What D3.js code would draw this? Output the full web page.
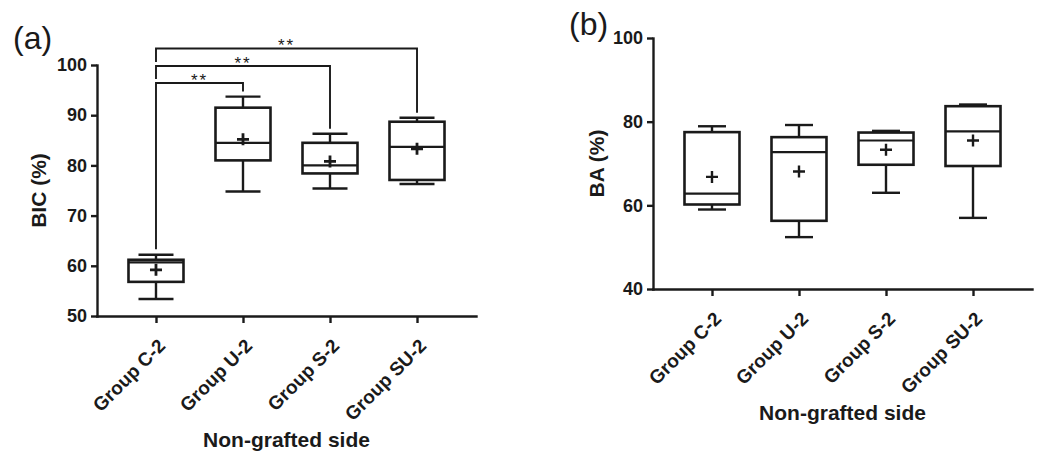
<!DOCTYPE html>
<html>
<head>
<meta charset="utf-8">
<script src="https://cdn.jsdelivr.net/npm/d3@7"></script>
<style>
  body { margin: 0; background: #fff; }
  svg { display: block; font-family: "Liberation Sans", Arial, sans-serif; }
</style>
</head>
<body>
<svg width="1039" height="455"></svg>
<script>
// groups on the x axis (same for both panels)
var groups = ["Group C-2", "Group U-2", "Group S-2", "Group SU-2"];

// panel (a) BIC (%)
var bic_min    = [53.4, 74.8, 75.4, 76.3];
var bic_q1     = [56.8, 81.0, 78.4, 77.1];
var bic_median = [60.7, 84.5, 80.0, 83.7];
var bic_q3     = [61.2, 91.5, 84.5, 88.7];
var bic_max    = [62.2, 93.7, 86.3, 89.5];
var bic_mean   = [59.2, 85.2, 80.8, 83.3];
var bic_ticks  = [50, 60, 70, 80, 90, 100];

// significance brackets for panel (a): pair of group indexes, bar level, label
var sig_pairs   = [[0, 1], [0, 2], [0, 3]];
var sig_levels  = [96.4, 99.8, 103.3];
var sig_labels  = ["**", "**", "**"];

// panel (b) BA (%)
var ba_min    = [59.0, 52.4, 63.0, 57.0];
var ba_q1     = [60.2, 56.3, 69.7, 69.4];
var ba_median = [62.8, 72.7, 75.5, 77.7];
var ba_q3     = [77.5, 76.3, 77.4, 83.7];
var ba_max    = [78.9, 79.2, 77.8, 84.1];
var ba_mean   = [66.8, 68.1, 73.3, 75.5];
var ba_ticks  = [40, 60, 80, 100];

var svg = d3.select("svg");

function draw_panel(opt) {
  var g = svg.append("g");

  var x = d3.scalePoint()
      .domain(groups)
      .range([opt.left, opt.right])
      .padding(0.678);

  var y = d3.scaleLinear()
      .domain(opt.domain)
      .range([opt.bottom, opt.top]);

  var stats = groups.map(function(name, i) {
    return {name: name, min: opt.min[i], q1: opt.q1[i], med: opt.median[i],
            q3: opt.q3[i], max: opt.max[i], mean: opt.mean[i]};
  });

  var boxW = 55, capW = opt.capW;

  var box = g.selectAll(".box")
      .data(stats)
      .enter().append("g")
      .attr("class", "box")
      .attr("stroke", "#1a1a1a")
      .attr("fill", "none");

  // whiskers
  box.append("line")
      .attr("x1", function(d) { return x(d.name); })
      .attr("x2", function(d) { return x(d.name); })
      .attr("y1", function(d) { return y(d.max); })
      .attr("y2", function(d) { return y(d.q3); })
      .attr("stroke-width", 2.4);
  box.append("line")
      .attr("x1", function(d) { return x(d.name); })
      .attr("x2", function(d) { return x(d.name); })
      .attr("y1", function(d) { return y(d.q1); })
      .attr("y2", function(d) { return y(d.min); })
      .attr("stroke-width", 2.4);
  // caps
  box.append("line")
      .attr("x1", function(d) { return x(d.name) - capW / 2; })
      .attr("x2", function(d) { return x(d.name) + capW / 2; })
      .attr("y1", function(d) { return y(d.max); })
      .attr("y2", function(d) { return y(d.max); })
      .attr("stroke-width", 2.4);
  box.append("line")
      .attr("x1", function(d) { return x(d.name) - capW / 2; })
      .attr("x2", function(d) { return x(d.name) + capW / 2; })
      .attr("y1", function(d) { return y(d.min); })
      .attr("y2", function(d) { return y(d.min); })
      .attr("stroke-width", 2.4);
  // box
  box.append("rect")
      .attr("x", function(d) { return x(d.name) - boxW / 2; })
      .attr("y", function(d) { return y(d.q3); })
      .attr("width", boxW)
      .attr("height", function(d) { return y(d.q1) - y(d.q3); })
      .attr("fill", "#fff")
      .attr("stroke-width", 2.6);
  // median
  box.append("line")
      .attr("x1", function(d) { return x(d.name) - boxW / 2; })
      .attr("x2", function(d) { return x(d.name) + boxW / 2; })
      .attr("y1", function(d) { return y(d.med); })
      .attr("y2", function(d) { return y(d.med); })
      .attr("stroke-width", 2.2);
  // mean "+"
  box.append("path")
      .attr("d", function(d) {
        var cx = x(d.name), cy = y(d.mean), s = 6;
        return "M" + (cx - s) + "," + cy + "H" + (cx + s) +
               "M" + cx + "," + (cy - s) + "V" + (cy + s);
      })
      .attr("stroke-width", opt.plusW);

  // axes
  var yAxis = g.append("g")
      .attr("transform", "translate(" + opt.left + ",0)")
      .call(d3.axisLeft(y).tickValues(opt.ticks).tickSize(6).tickSizeOuter(0).tickPadding(4));

  var xAxis = g.append("g")
      .attr("transform", "translate(0," + opt.bottom + ")")
      .call(d3.axisBottom(x).tickSize(7).tickSizeOuter(0));

  [yAxis, xAxis].forEach(function(a) {
    a.selectAll("path, line").attr("stroke", "#1a1a1a").attr("stroke-width", 2.4);
    a.select(".domain").attr("stroke-linecap", "square");
  });

  yAxis.selectAll("text")
      .attr("fill", "#1a1a1a")
      .style("font-size", "18px")
      .style("font-weight", "bold");

  xAxis.selectAll("text")
      .attr("fill", "#1a1a1a")
      .style("font-size", "19px")
      .style("font-weight", "bold")
      .style("text-anchor", "end")
      .attr("dy", null)
      .attr("y", null)
      .attr("transform", "translate(10,31) rotate(-45)");

  // axis titles
  g.append("text")
      .attr("x", (opt.left + opt.right) / 2)
      .attr("y", opt.bottom + 131)
      .attr("text-anchor", "middle")
      .attr("fill", "#1a1a1a")
      .style("font-size", "21px")
      .style("font-weight", "bold")
      .text("Non-grafted side");

  g.append("text")
      .attr("transform", "translate(" + opt.ylabelX + "," + ((opt.top + opt.bottom) / 2) + ") rotate(-90)")
      .attr("text-anchor", "middle")
      .attr("dy", "0.35em")
      .attr("fill", "#1a1a1a")
      .style("font-size", "21px")
      .style("font-weight", "bold")
      .text(opt.ylabel);

  // panel letter
  g.append("text")
      .attr("x", opt.letterX)
      .attr("y", opt.letterY)
      .attr("fill", "#1a1a1a")
      .style("font-size", "32px")
      .text(opt.letter);

  return {x: x, y: y, g: g};
}

var pa = draw_panel({
  left: 97, right: 476, top: 65, bottom: 316, domain: [50, 100], ticks: bic_ticks,
  min: bic_min, q1: bic_q1, median: bic_median, q3: bic_q3, max: bic_max, mean: bic_mean,
  capW: 35, plusW: 2.8, ylabel: "BIC (%)", ylabelX: 39, letter: "(a)", letterX: 13, letterY: 49
});

var pb = draw_panel({
  left: 653, right: 1032, top: 38, bottom: 289, domain: [40, 100], ticks: ba_ticks,
  min: ba_min, q1: ba_q1, median: ba_median, q3: ba_q3, max: ba_max, mean: ba_mean,
  capW: 28, plusW: 2.4, ylabel: "BA (%)", ylabelX: 597, letter: "(b)", letterX: 569, letterY: 35
});

// significance brackets on panel (a)
sig_pairs.forEach(function(p, i) {
  var xa = pa.x(groups[p[0]]), xb = pa.x(groups[p[1]]);
  var yl = pa.y(sig_levels[i]);
  var leftEnd = i === 0 ? bic_max[p[0]] + 1.1 : sig_levels[i - 1] + 0.8;
  var rightEnd = bic_max[p[1]] + 1.0;
  pa.g.append("path")
      .attr("d", "M" + xa + "," + pa.y(leftEnd) + "V" + yl + "H" + xb + "V" + pa.y(rightEnd))
      .attr("fill", "none")
      .attr("stroke", "#1a1a1a")
      .attr("stroke-width", 1.9);
  pa.g.append("text")
      .attr("x", (xa + xb) / 2)
      .attr("y", yl + 3)
      .attr("text-anchor", "middle")
      .attr("fill", "#1a1a1a")
      .style("font-size", "17px")
      .style("letter-spacing", "2px")
      .text(sig_labels[i]);
});
</script>
</body>
</html>
